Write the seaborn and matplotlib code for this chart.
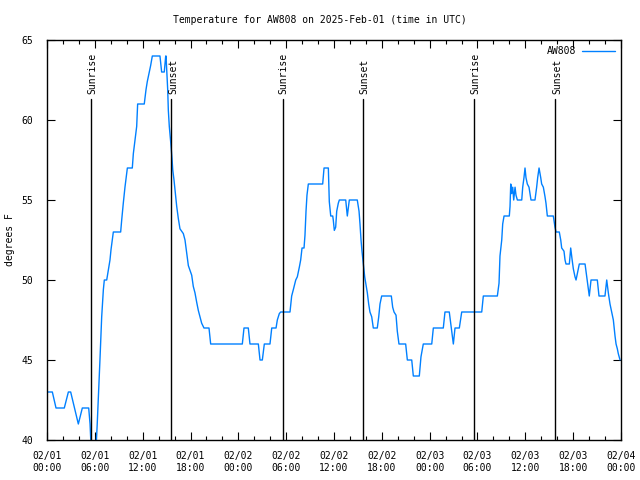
import matplotlib
matplotlib.use("Agg")
import matplotlib.pyplot as plt
import seaborn as sns
import pandas as pd

# hours since 2025-02-01 00:00 UTC, temperature (F)
hours = [0, 0.67, 1.13, 2.17, 2.68, 2.97, 3.93, 4.43, 5.23, 5.4, 5.58, 6.1, 6.3,
         6.44, 6.65, 6.86, 7.07, 7.19, 7.49, 7.69, 7.9, 8.03, 8.32, 9.24, 9.37, 9.57,
         9.78, 10.08, 10.7, 10.83, 11.04, 11.25, 11.37, 12.2, 12.42, 12.58, 12.79,
         13.0, 13.21, 14.17, 14.38, 14.71, 14.89, 14.93, 15.14, 15.22, 15.34, 15.52,
         15.68, 15.77, 15.93, 16.1, 16.27, 16.47, 16.68, 17.1, 17.31, 17.52, 17.73,
         18.15, 18.35, 18.56, 18.78, 18.98, 19.19, 19.4, 19.69, 20.32, 20.53, 24.5,
         24.71, 25.25, 25.46, 26.51, 26.72, 27.01, 27.26, 27.97, 28.19, 28.73, 28.89,
         29.14, 29.31, 30.48, 30.69, 30.9, 31.2, 31.4, 31.65, 31.82, 31.99, 32.24,
         32.36, 32.49, 32.61, 32.78, 34.58, 34.75, 35.29, 35.41, 35.59, 35.84, 35.91,
         36.04, 36.21, 36.34, 36.54, 36.67, 37.47, 37.67, 37.92, 38.92, 39.14, 39.26,
         39.39, 39.51, 39.68, 39.85, 40.02, 40.18, 40.35, 40.51, 40.73, 40.93, 41.43,
         41.61, 41.77, 41.98, 43.19, 43.36, 43.53, 43.78, 43.94, 44.15, 44.99, 45.2,
         45.75, 45.95, 46.7, 46.91, 47.2, 48.26, 48.46, 49.71, 49.92, 50.46, 50.97,
         51.18, 51.72, 52.02, 54.53, 54.73, 56.49, 56.7, 56.82, 57.04, 57.16, 57.33,
         57.99, 58.08, 58.17, 58.29, 58.42, 58.54, 58.71, 58.83, 59.0, 59.55, 59.67,
         59.83, 59.96, 60.08, 60.25, 60.46, 60.59, 60.71, 61.21, 61.42, 61.55, 61.72,
         61.93, 62.05, 62.26, 62.47, 62.59, 62.76, 63.51, 63.72, 63.85, 64.26, 64.44,
         64.56, 64.85, 64.98, 65.1, 65.52, 65.69, 65.86, 66.02, 66.23, 66.36, 66.57,
         66.77, 67.49, 67.7, 67.91, 68.02, 68.24, 69.03, 69.24, 69.99, 70.21, 70.41,
         70.62, 70.83, 71.04, 71.25, 71.38, 71.54, 71.66, 71.88]
temps = [43, 43, 42, 42, 43, 43, 41, 42, 42, 41, 39, 39, 41,
         42.6, 45.1, 47.7, 49.4, 50, 50, 50.6, 51.25, 51.9, 53, 53, 53.75, 54.8,
         55.8, 57, 57, 57.9, 58.75, 59.6, 61, 61, 61.9, 62.4, 62.9,
         63.4, 64, 64, 63, 63, 64, 64, 61.9, 60.6, 59.6, 58.6,
         57.6, 56.9, 56.25, 55.4, 54.6, 53.85, 53.2, 52.9, 52.5, 51.7, 50.9,
         50.3, 49.6, 49.2, 48.6, 48.1, 47.7, 47.3, 47, 47, 46, 46,
         47, 47, 46, 46, 45, 45, 46, 46, 47, 47, 47.5,
         47.9, 48, 48, 49, 49.4, 50, 50.2, 50.8, 51.25, 52, 52,
         52.8, 54.3, 55.3, 56, 56, 57, 57, 54.9, 54, 54, 53.75,
         53.1, 53.3, 54.3, 54.8, 55, 55, 54, 55, 55, 54.3, 53.5,
         52.5, 51.8, 51, 50.2, 49.7, 49.2, 48.5, 48, 47.7, 47, 47,
         47.7, 48.5, 49, 49, 48.3, 48, 47.8, 46.8, 46, 46, 45,
         45, 44, 44, 45.2, 46, 46, 47, 47, 48, 48, 46,
         47, 47, 48, 48, 49, 49, 49.8, 51.5, 52.5, 53.5, 54,
         54, 54.6, 56, 55.4, 55.8, 55, 55.8, 55.3, 55, 55, 55.8,
         56.4, 57, 56.4, 56, 55.8, 55.4, 55, 55, 55.8, 56.4, 57,
         56.4, 56, 55.8, 55.2, 54.8, 54, 54, 53.3, 53, 53, 52.5,
         52, 51.8, 51.25, 51, 51, 52, 51.3, 50.7, 50.2, 50, 50.5,
         51, 51, 50.2, 49.4, 49, 50, 50, 49, 49, 50, 49.2,
         48.5, 48, 47.5, 46.5, 46, 45.7, 45.4, 45]

sunrise_hours = [5.56, 29.6, 53.6]
sunset_hours = [15.6, 39.64, 63.76]
tick_hours = list(range(0, 73, 6))
tick_labels = ["02/01\n00:00", "02/01\n06:00", "02/01\n12:00", "02/01\n18:00",
               "02/02\n00:00", "02/02\n06:00", "02/02\n12:00", "02/02\n18:00",
               "02/03\n00:00", "02/03\n06:00", "02/03\n12:00", "02/03\n18:00",
               "02/04\n00:00"]
series_name = "AW808"

df = pd.DataFrame({"hour": hours, "temp": temps, "station": series_name})

FS = 7.0
sns.set_theme(style="ticks")
plt.rcParams["font.family"] = ["DejaVu Sans Mono"]
plt.rcParams["font.size"] = FS
for k in ["text.color", "axes.labelcolor", "xtick.color", "ytick.color"]:
    plt.rcParams[k] = "black"

fig = plt.figure(figsize=(6.4, 4.8), dpi=100)
ax = fig.add_axes([47/640, 40/480, 574/640, 400/480])

sns.lineplot(data=df, x="hour", y="temp", hue="station", palette=["#0080ff"],
             estimator=None, sort=False, linewidth=1.0, ax=ax)

top_line = 61.3
for h in sunrise_hours:
    ax.plot([h, h], [40, top_line], color="black", lw=1.0)
    ax.text(h + 0.1, top_line + 0.35, "Sunrise", rotation=90, ha="center", va="bottom",
            fontsize=FS, color="black")
for h in sunset_hours:
    ax.plot([h, h], [40, top_line], color="black", lw=1.0)
    ax.text(h + 0.2, top_line + 0.35, "Sunset", rotation=90, ha="center", va="bottom",
            fontsize=FS, color="black")

ax.set_xlim(0, 72)
ax.set_ylim(40, 65)
ax.set_xticks(tick_hours)
ax.set_xticklabels(tick_labels)
ax.set_xticks(range(0, 73, 2), minor=True)
ax.set_yticks([40, 45, 50, 55, 60, 65])
ax.tick_params(which="both", direction="in", top=True, right=True, width=0.8,
               labelsize=FS, colors="black")
ax.tick_params(which="major", length=6)
ax.tick_params(which="minor", length=3)
ax.tick_params(axis="x", pad=8)
ax.tick_params(axis="y", pad=10)
for s in ax.spines.values():
    s.set_linewidth(1.0)
    s.set_color("black")
ax.set_xlabel("")
ax.set_ylabel("")

leg = ax.legend(loc="upper right", frameon=False, markerfirst=False, handlelength=3.4,
                borderaxespad=0.25, fontsize=FS, handletextpad=0.6)
for t in leg.get_texts():
    t.set_color("black")

fig.text(0.5, 1 - 20/480, "Temperature for AW808 on 2025-Feb-01 (time in UTC)",
         ha="center", va="center", fontsize=FS, color="black")
fig.text(10/640, 0.5, "degrees F", rotation=90, ha="center", va="center", fontsize=FS,
         color="black")

fig.savefig("out.png", dpi=100)
